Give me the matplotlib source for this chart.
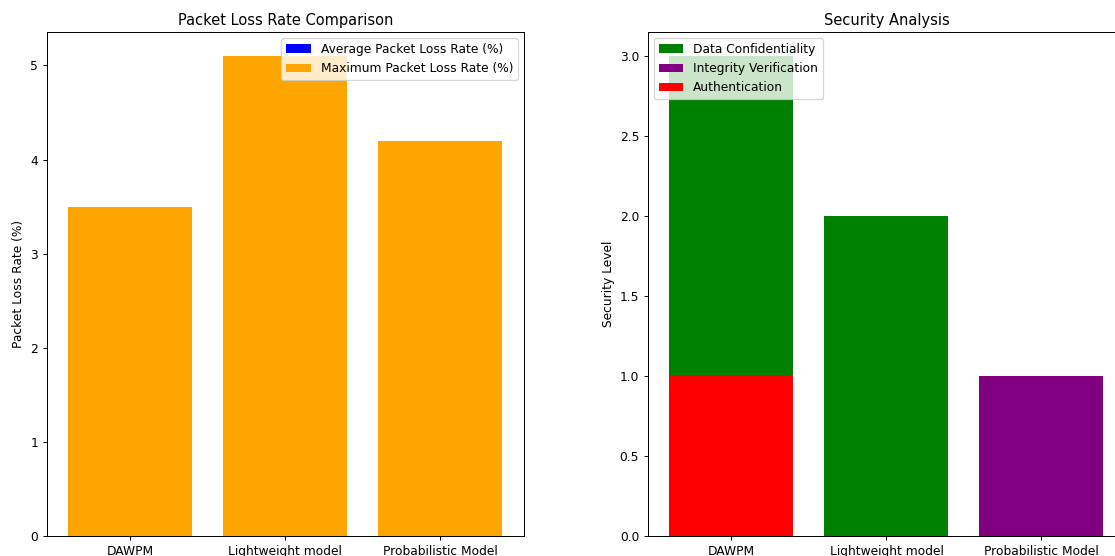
import matplotlib
matplotlib.use("Agg")
import matplotlib.pyplot as plt
import numpy as np

models = ["DAWPM", "Lightweight model", "Probabilistic Model"]

avg_loss = [2.8, 4.3, 3.6]
max_loss = [3.5, 5.1, 4.2]

confidentiality = [3, 2, 0]
integrity = [0, 0, 1]
authentication = [1, 0, 0]

W, H = 1115, 556
DPI = 88
fig = plt.figure(figsize=(W / DPI, H / DPI), dpi=DPI)

ax_w = (524 - 46.5) / W
ax_b = (H - 536) / H
ax_h = 504 / H
ax1 = fig.add_axes([46.5 / W, ax_b, ax_w, ax_h])
ax2 = fig.add_axes([647.7 / W, ax_b, ax_w, ax_h])

# Packet loss: maximum drawn over the average
ax1.bar(models, avg_loss, color="blue", label="Average Packet Loss Rate (%)")
ax1.bar(models, max_loss, color="orange", label="Maximum Packet Loss Rate (%)")
ax1.set_title("Packet Loss Rate Comparison")
ax1.set_ylabel("Packet Loss Rate (%)")
ax1.legend(loc="upper right")

# Security features per model
ax2.bar(models, confidentiality, color="green", label="Data Confidentiality")
ax2.bar(models, integrity, color="purple", label="Integrity Verification")
ax2.bar(models, authentication, color="red", label="Authentication")
ax2.set_title("Security Analysis")
ax2.set_ylabel("Security Level")
ax2.legend(loc="upper left")

fig.savefig("out.png", dpi=DPI)
